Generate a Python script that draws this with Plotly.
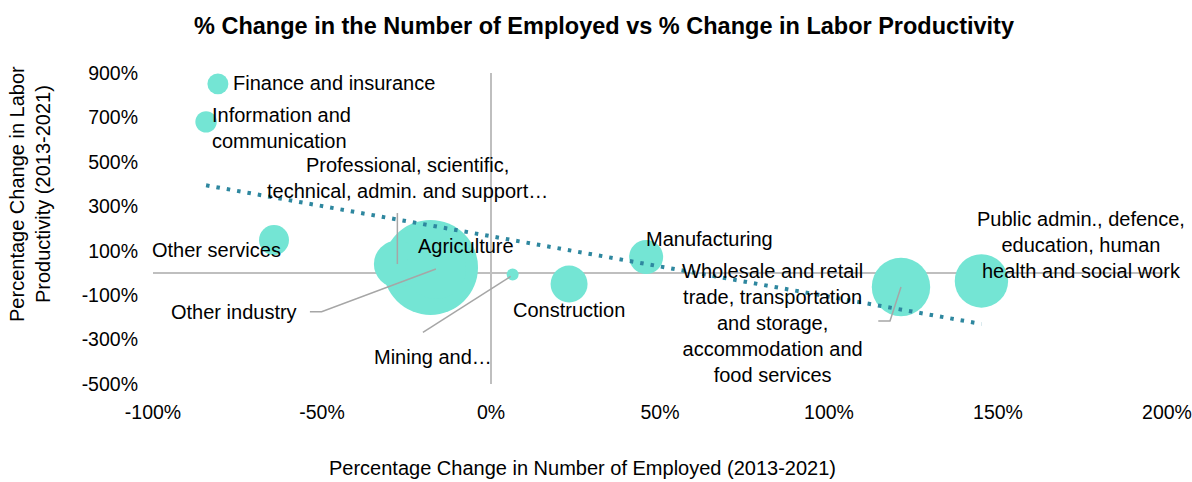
import numpy as np
import plotly.graph_objects as go

# ---- data ----
sectors = [
    "Finance and insurance",
    "Information and communication",
    "Other services",
    "Agriculture",
    "Professional, scientific, technical, admin. and support",
    "Other industry",
    "Mining and quarrying",
    "Construction",
    "Manufacturing",
    "Wholesale and retail trade, transportation and storage, accommodation and food services",
    "Public admin., defence, education, human health and social work",
]
label_texts = [
    "Finance and insurance",
    "Information and<br>communication",
    "Other services",
    "Agriculture",
    "Professional, scientific,<br>technical, admin. and support…",
    "Other industry",
    "Mining and…",
    "Construction",
    "Manufacturing",
    "Wholesale and retail<br>trade, transportation<br>and storage,<br>accommodation and<br>food services",
    "Public admin., defence,<br>education, human<br>health and social work",
]
emp_change = [-80.8, -84.3, -64.2, -17.9, -27.7, -16.3, 6.4, 23.1, 45.9, 121.3, 145.1]
prod_change = [851, 680, 148, 25, 40, 18, -7, -50, 72, -63, -36]
bubble_size = [110, 115, 225, 2256, 552, 900, 36, 342, 289, 853, 713]

x_ticks = [-100, -50, 0, 50, 100, 150, 200]
x_tick_labels = ["-100%", "-50%", "0%", "50%", "100%", "150%", "200%"]
y_ticks = [-500, -300, -100, 100, 300, 500, 700, 900]
y_tick_labels = ["-500%", "-300%", "-100%", "100%", "300%", "500%", "700%", "900%"]

# ---- styling ----
FONT = "Liberation Sans, Arial, sans-serif"
BUBBLE = "#74E5D4"
TREND = "#2E879F"
LEADER = "#A6A6A6"
AXIS = "#BFBFBF"
LABEL_SIZE = 20

# label placement, same order as sectors: (xshift, yshift, xanchor, align), pixels from bubble centre
label_pos = [
    (13, 1, "left", "left"),        # Finance
    (4, -6, "left", "left"),        # Information
    (-58, -10, "center", "center"), # Other services
    (35.7, 21.5, "center", "center"),  # Agriculture
    (10.5, 86, "center", "center"), # Professional
    (-202, -43, "center", "center"),# Other industry
    (-80, -83, "center", "center"), # Mining
    (0, -26, "center", "center"),   # Construction
    (-2, 18, "left", "left"),       # Manufacturing
    (-128, -36, "center", "center"),# Wholesale
    (99.5, 36, "center", "center"), # Public admin
]

# leader lines: sector index -> pixel path relative to bubble centre (y up)
leaders = {
    4: "M 0,0 L 0,51",
    5: "M -126,-42.7 L -114.3,-42.7 L 0,0",
    6: "M -89.7,-58 L -2,-2",
    9: "M 0,0 L -11,-34 L -22.7,-34",
}

fig = go.Figure()

fig.add_trace(go.Scatter(
    x=emp_change, y=prod_change, mode="markers",
    marker=dict(size=bubble_size, sizemode="area", sizeref=0.5,
                color=BUBBLE, opacity=1, line=dict(width=0)),
    text=sectors, hoverinfo="text+x+y", showlegend=False,
))

# linear trendline (least squares over the bubbles)
xs = np.array(emp_change, dtype=float)
ys = np.array(prod_change, dtype=float)
slope, intercept = np.polyfit(xs, ys, 1)
tx = np.array([xs.min(), xs.max()])
fig.add_trace(go.Scatter(
    x=tx, y=slope * tx + intercept, mode="lines",
    line=dict(color=TREND, width=4, dash="3.5px,7px"),
    hoverinfo="skip", showlegend=False,
))

annotations = []
for i, txt in enumerate(label_texts):
    xs_, ys_, xa, al = label_pos[i]
    annotations.append(dict(
        x=emp_change[i], y=prod_change[i], xref="x", yref="y",
        text=txt, showarrow=False, xshift=xs_, yshift=ys_,
        xanchor=xa, yanchor="middle", align=al,
        font=dict(family=FONT, size=LABEL_SIZE, color="#000000"),
    ))

# axis titles
annotations.append(dict(
    text="Percentage Change in Labor<br>Productivity (2013-2021)",
    xref="paper", yref="paper", x=-0.1213, y=0.611,
    xanchor="center", yanchor="middle", textangle=-90, showarrow=False,
    font=dict(family=FONT, size=LABEL_SIZE, color="#000000"),
))
annotations.append(dict(
    text="Percentage Change in Number of Employed (2013-2021)",
    xref="paper", yref="paper", x=0.424, y=-0.270,
    xanchor="center", yanchor="middle", showarrow=False,
    font=dict(family=FONT, size=LABEL_SIZE, color="#000000"),
))

shapes = []
for i, path in leaders.items():
    shapes.append(dict(
        type="path", xref="x", yref="y",
        xsizemode="pixel", ysizemode="pixel",
        xanchor=emp_change[i], yanchor=prod_change[i],
        path=path, line=dict(color=LEADER, width=1.5), layer="above",
    ))

fig.update_layout(
    width=1192, height=482,
    margin=dict(l=153, r=25, t=73, b=98, autoexpand=False),
    paper_bgcolor="white", plot_bgcolor="white",
    title=dict(
        text="<b>% Change in the Number of Employed vs % Change in Labor Productivity</b>",
        xref="container", yref="container", x=604 / 1192, y=1 - 26 / 482,
        xanchor="center", yanchor="middle",
        font=dict(family=FONT, size=23.5, color="#000000"),
    ),
    annotations=annotations,
    shapes=shapes,
    showlegend=False,
)
fig.update_xaxes(
    range=[-100, 200], tickvals=x_ticks, ticktext=x_tick_labels,
    showgrid=False, zeroline=True, zerolinecolor=AXIS, zerolinewidth=1.5,
    showline=False, ticks="", ticklabelstandoff=14, automargin=False,
    tickfont=dict(family=FONT, size=19.5, color="#000000"),
)
fig.update_yaxes(
    range=[-500, 900], tickvals=y_ticks, ticktext=y_tick_labels,
    showgrid=False, zeroline=True, zerolinecolor=AXIS, zerolinewidth=1.5,
    showline=False, ticks="", ticklabelstandoff=14, automargin=False,
    tickfont=dict(family=FONT, size=19.5, color="#000000"),
)

fig.write_html(
    "out.html",
    config={"displayModeBar": False},
    post_script="document.body.style.margin='0';document.body.style.padding='0';",
)
